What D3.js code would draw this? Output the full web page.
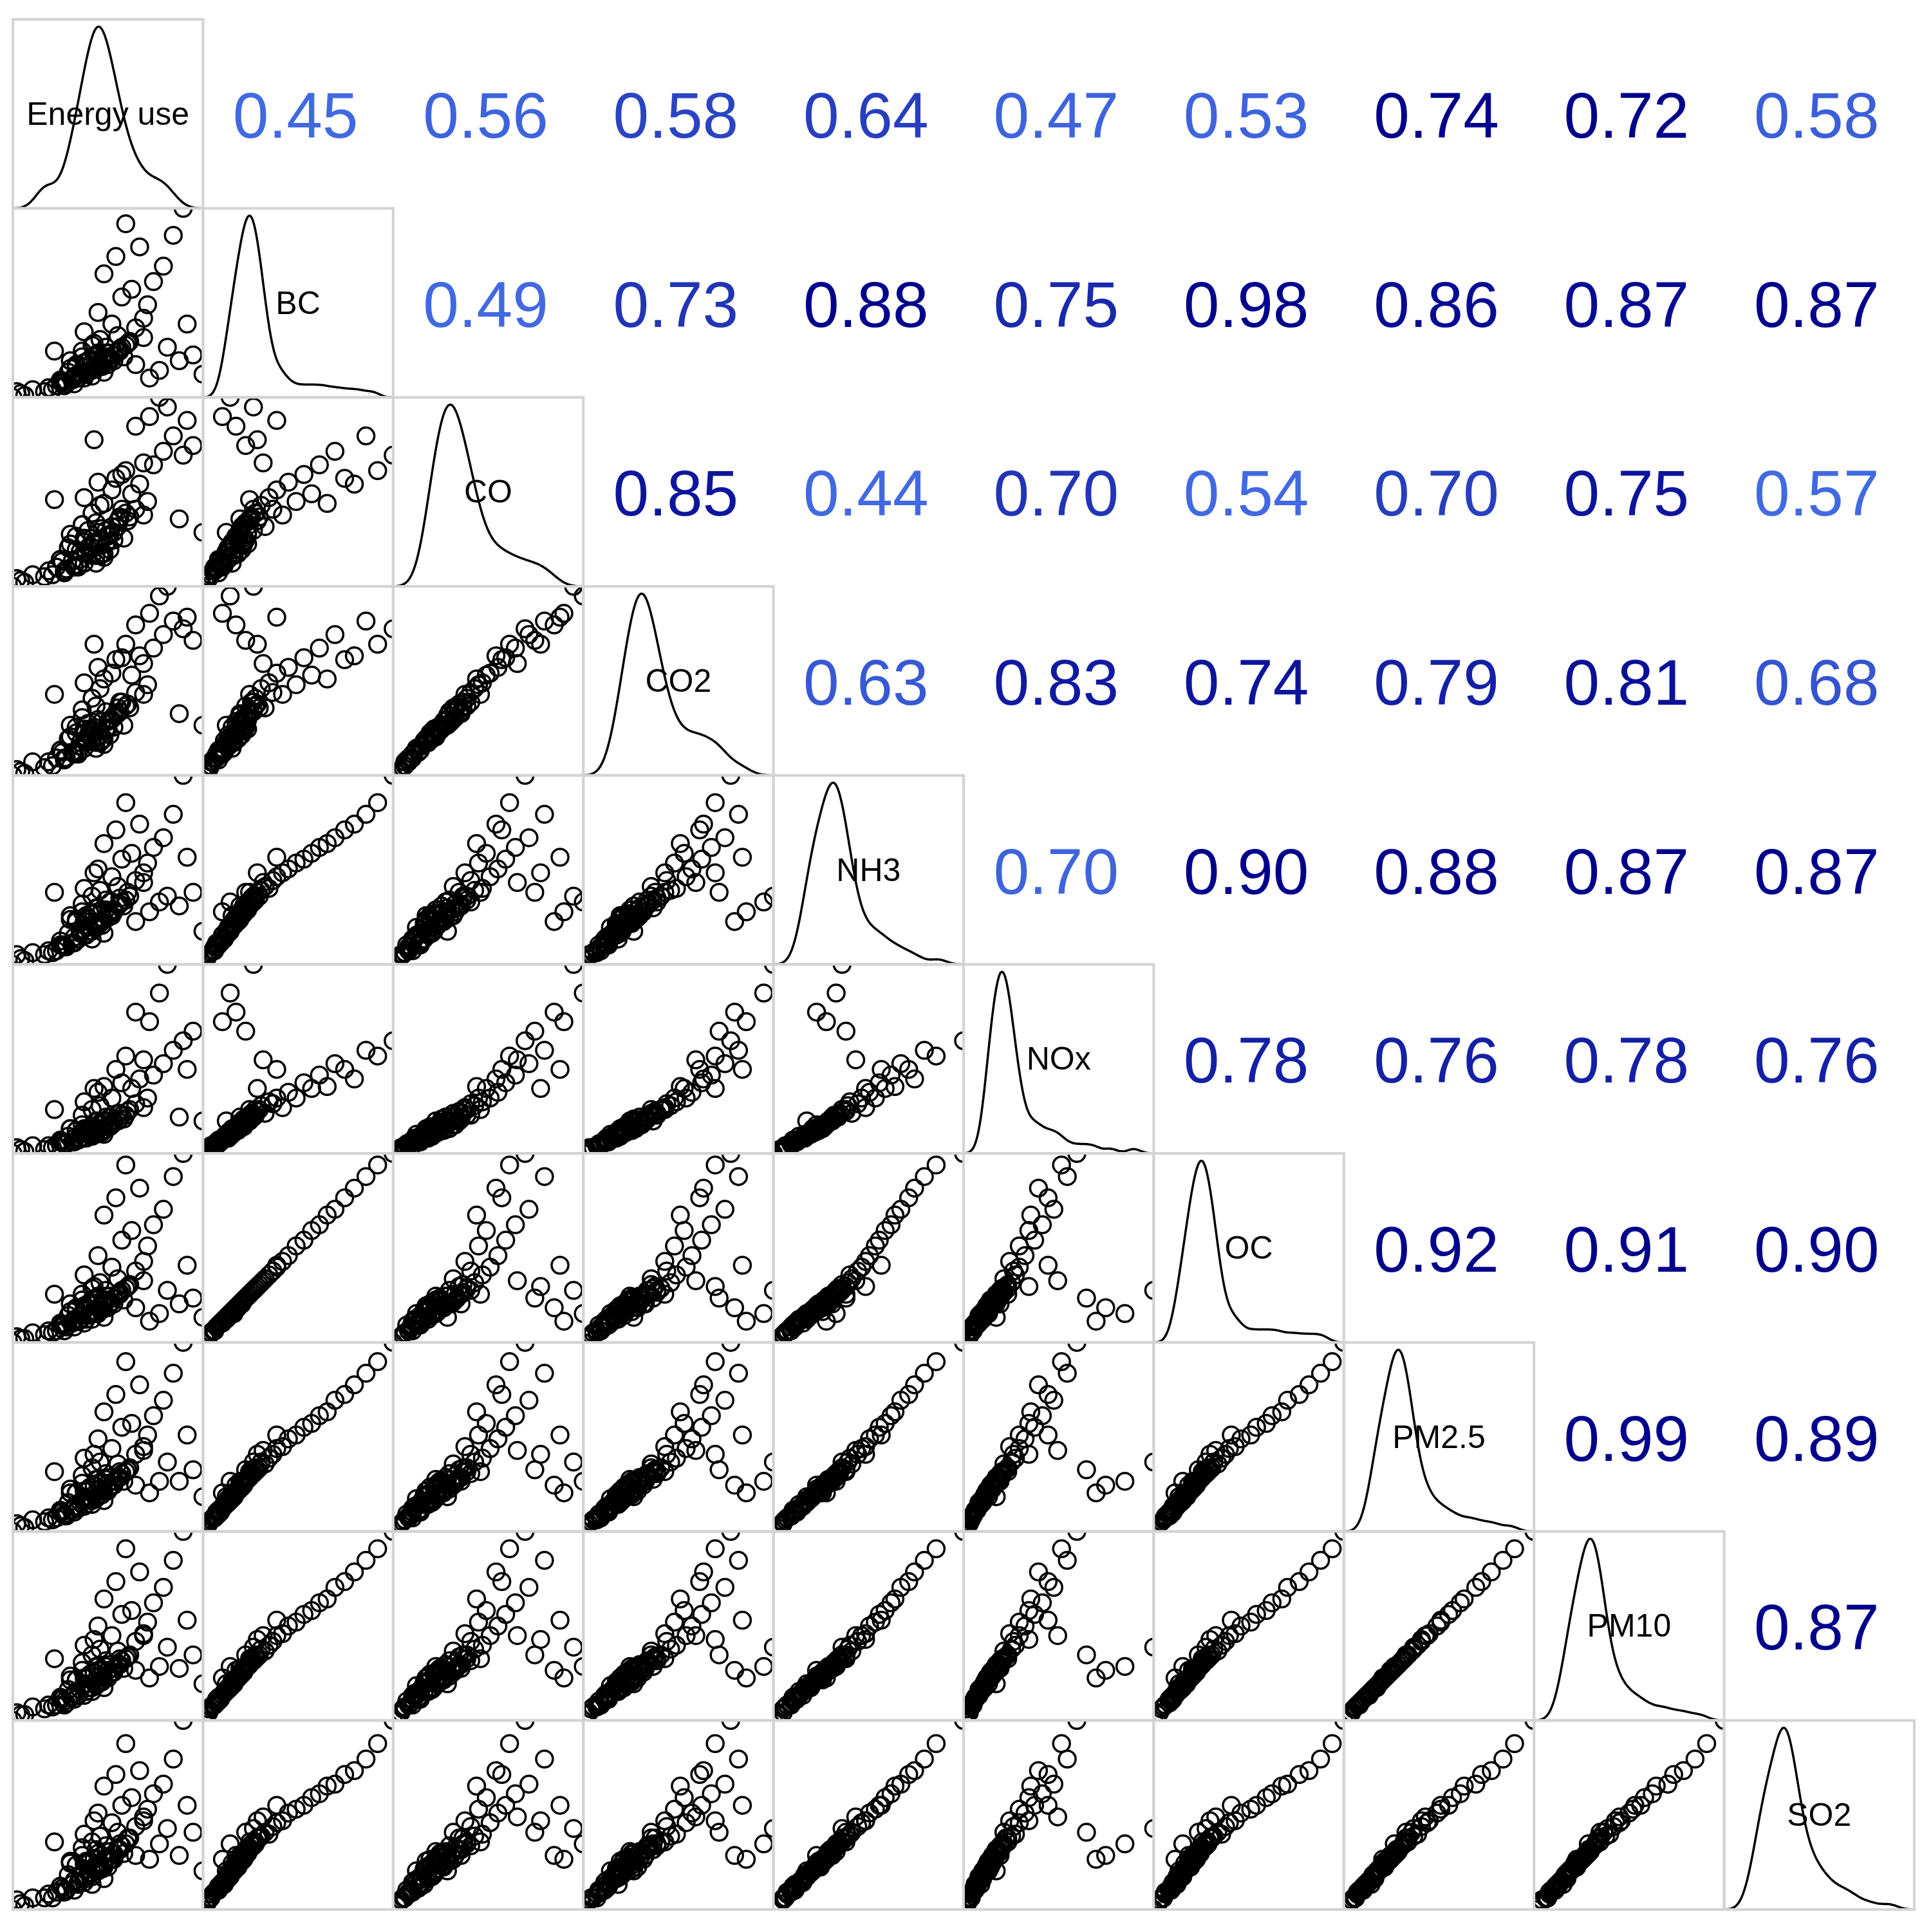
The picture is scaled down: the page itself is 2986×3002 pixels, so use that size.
<!DOCTYPE html>
<html><head><meta charset="utf-8">
<script src="https://cdn.jsdelivr.net/npm/d3@7"></script>
<style>body{margin:0;background:#fff}</style></head>
<body><svg id="c" width="2986" height="3002"></svg>
<script>
const variables = ["Energy use","BC","CO","CO2","NH3","NOx","OC","PM2.5","PM10","SO2"];
const energyUse = [10,6,14,30,35,28,40,44,38,42,50,45,47,36,52,48,41,55,43,49,60,46,53,39,58,51,44,62,48,57,40,66,54,70,47,72,59,64,75,50,80,56,68,85,61,90,73,78,66,95,82,70,100,4,8,33,88,25,45,92,
 20,26,30,34,37,41,38,44,46,40,48,36,50,42,53,45,39,55,47,58,24,31,28,35,43,49,33,52,57,61,22,29,37,32,46,40,54,51,59,63];
const BC  = [3,5,6,8,9,10,12,13,14,15,15,17,18,18,19,20,20,21,22,22,23,24,25,26,27,28,29,30,32,34,36,38,40,43,46,50,54,58,62,66,70,75,80,86,92,100,12,16,19,24,28,33,14,2,4,17,21,26,30,40,
 5,8,10,11,12,14,15,16,17,18,18,19,20,21,22,23,23,24,25,26,6,9,11,13,16,18,21,23,26,29,7,10,12,15,17,20,22,25,28,31];
const CO  = [4,6,8,10,12,16,14,18,20,22,17,25,24,21,28,26,19,30,23,32,27,35,29,34,38,31,40,36,44,33,48,42,52,39,56,46,60,50,65,45,72,58,55,80,62,70,90,100,85,75,95,66,30,2,5,24,37,47,78,88,
 7,12,9,15,13,20,16,22,14,25,18,28,19,31,21,24,34,26,30,37,8,11,16,13,23,19,29,25,36,40,10,15,12,22,18,27,33,24,42,38];
const CO2 = [3,5,9,11,13,15,16,20,19,23,18,27,22,24,30,25,21,33,26,30,28,38,31,36,40,35,42,39,47,37,50,45,55,44,58,49,63,54,68,52,75,62,64,82,70,78,86,95,80,72,100,60,28,2,4,22,34,44,70,84,
 6,11,10,14,14,19,17,21,16,24,19,27,21,29,23,25,32,27,31,35,7,11,15,14,22,20,28,26,34,38,9,14,13,21,19,26,31,26,40,37];
const NH3 = [5,8,9,12,14,13,18,16,20,22,19,24,23,26,27,25,28,30,29,31,33,32,35,34,37,36,38,40,41,43,42,46,48,50,52,55,57,60,63,65,68,72,75,80,86,100,30,35,25,40,38,45,20,3,6,28,33,40,50,58,
 8,10,13,14,16,18,19,20,22,23,24,25,26,27,28,29,30,31,32,34,9,12,15,17,20,23,26,29,33,36,10,13,16,19,22,25,28,31,35,38];
const NOx = [2,4,5,6,7,8,9,10,11,12,11,13,14,13,15,16,14,17,15,18,19,18,20,21,22,20,24,23,26,22,28,27,30,25,33,30,38,35,42,36,48,45,40,55,52,60,70,85,75,65,100,50,18,1,3,14,20,24,35,45,
 3,5,6,7,8,9,9,10,11,12,12,13,13,14,15,15,16,17,18,19,4,6,7,9,11,12,14,16,18,21,5,7,8,10,12,14,16,18,21,24];
const OC  = [4,5,7,8,10,11,12,14,14,16,15,18,17,19,20,21,20,22,23,22,24,25,26,27,28,29,30,31,33,35,37,39,41,44,47,52,55,60,63,68,71,77,82,88,94,100,13,17,20,25,29,34,15,2,4,18,22,27,31,42,
 6,8,11,12,13,14,16,17,17,19,19,20,21,22,22,24,24,25,26,27,7,10,12,14,17,19,22,24,27,30,8,11,13,16,18,21,23,26,29,32];
const PM25= [4,6,8,10,12,13,15,16,17,19,18,21,20,22,23,24,23,26,25,27,28,29,30,31,33,32,35,34,38,37,40,42,45,46,50,52,56,58,62,64,70,73,78,84,90,100,22,28,26,34,38,44,20,2,5,22,28,33,42,52,
 7,9,11,13,14,16,17,18,19,20,21,22,23,24,25,26,27,28,29,30,8,10,12,15,18,21,24,27,30,33,9,12,14,17,20,23,26,29,32,35];
const PM10= [5,6,9,10,13,14,15,17,18,19,19,22,21,23,24,25,24,27,26,28,29,30,31,32,34,33,36,35,39,38,41,43,46,47,51,53,57,59,63,65,71,74,79,85,91,100,24,30,28,36,40,46,21,2,5,23,29,34,44,54,
 8,10,12,14,15,17,18,19,20,21,22,23,24,25,26,27,28,29,30,31,9,11,13,16,19,22,25,28,31,34,10,13,15,18,21,24,27,30,33,36];
const SO2 = [4,7,8,11,12,14,16,15,19,21,18,23,22,25,24,26,27,28,27,30,31,33,32,34,36,35,37,39,40,42,41,45,47,48,52,54,56,60,62,66,67,72,74,80,88,100,28,36,30,42,44,50,22,2,5,26,30,37,48,56,
 8,11,12,15,15,18,19,19,22,23,23,25,24,27,28,28,30,31,31,33,8,12,14,17,20,23,27,29,33,36,10,13,16,20,22,26,28,32,35,39];
const series = [energyUse,BC,CO,CO2,NH3,NOx,OC,PM25,PM10,SO2];
// upper-triangle correlation labels, row by row
const corrLabels = [
 ["0.45","0.56","0.58","0.64","0.47","0.53","0.74","0.72","0.58"],
 ["0.49","0.73","0.88","0.75","0.98","0.86","0.87","0.87"],
 ["0.85","0.44","0.70","0.54","0.70","0.75","0.57"],
 ["0.63","0.83","0.74","0.79","0.81","0.68"],
 ["0.70","0.90","0.88","0.87","0.87"],
 ["0.78","0.76","0.78","0.76"],
 ["0.92","0.91","0.90"],
 ["0.99","0.89"],
 ["0.87"]];
const corrShade = [
 [0,0.05,0.35,0.4,0.05,0.05,1,1,0.1],
 [0,0.5,1,0.6,1,0.9,0.9,1],
 [0.8,0,0.5,0,0.4,0.8,0],
 [0.15,0.75,0.8,0.7,0.85,0.2],
 [0.05,1,1,1,1],
 [0.7,0.7,0.7,0.7],
 [1,1,1],[1,1],[1]];

const svg = d3.select("#c");
const x0=20, y0=30, pw=295.4, ph=293.7, n=10;
const col = d3.interpolateRgb("#4169E1","#00008B");
const defs = svg.append("defs");

function kde(vals){
  const s=vals.slice().sort((a,b)=>a-b);
  const sd=d3.deviation(vals);
  const q=d3.quantile(s,0.75)-d3.quantile(s,0.25);
  const bw=0.9*Math.min(sd,q/1.34)*Math.pow(vals.length,-0.2)*1.15;
  const lo=d3.min(vals)-3*bw, hi=d3.max(vals)+3*bw;
  const pts=d3.range(0,201).map(i=>{const x=lo+(hi-lo)*i/200;
    return [x,d3.mean(vals,v=>Math.exp(-0.5*((x-v)/bw)**2))/bw];});
  return {pts,lo,hi};
}

for(let i=0;i<n;i++){for(let j=0;j<n;j++){
  const px=x0+j*pw, py=y0+i*ph;
  const g=svg.append("g").attr("transform",`translate(${px},${py})`);
  if(j>i){
    g.append("text").attr("x",pw/2-4).attr("y",ph/2+2).attr("text-anchor","middle")
     .attr("dominant-baseline","central").attr("font-family","Liberation Sans, Arial")
     .attr("font-size",100).attr("fill",col(corrShade[i][j-i-1])).text(corrLabels[i][j-i-1]);
    continue;
  }
  const cid=`cl${i}_${j}`;
  defs.append("clipPath").attr("id",cid).append("rect").attr("width",pw).attr("height",ph);
  const inner=g.append("g").attr("clip-path",`url(#${cid})`);
  if(i===j){
    const k=kde(series[i]);
    const xs=d3.scaleLinear().domain([k.lo,k.hi]).range([0,pw]);
    const ys=d3.scaleLinear().domain([0,d3.max(k.pts,d=>d[1])*1.04]).range([ph,0]);
    inner.append("path").attr("d",d3.line().x(d=>xs(d[0])).y(d=>ys(d[1])).curve(d3.curveBasis)(k.pts))
      .attr("fill","none").attr("stroke","#000").attr("stroke-width",3.5);
    g.append("text").attr("x",pw/2).attr("y",ph/2).attr("text-anchor","middle")
     .attr("dominant-baseline","central").attr("font-family","Liberation Sans, Arial")
     .attr("font-size",50).attr("fill","#000").text(variables[i]);
  } else {
    const xv=series[j], yv=series[i];
    const xs=d3.scaleLinear().domain(d3.extent(xv)).range([0,pw]);
    const ys=d3.scaleLinear().domain(d3.extent(yv)).range([ph,0]);
    inner.selectAll("circle").data(d3.range(Math.min(xv.length,yv.length))).join("circle")
      .attr("cx",d=>xs(xv[d])).attr("cy",d=>ys(yv[d])).attr("r",13)
      .attr("fill","none").attr("stroke","#000").attr("stroke-width",3.5);
  }
  g.append("rect").attr("width",pw).attr("height",ph).attr("fill","none")
   .attr("stroke","#d3d3d3").attr("stroke-width",4);
}}
</script></body></html>
